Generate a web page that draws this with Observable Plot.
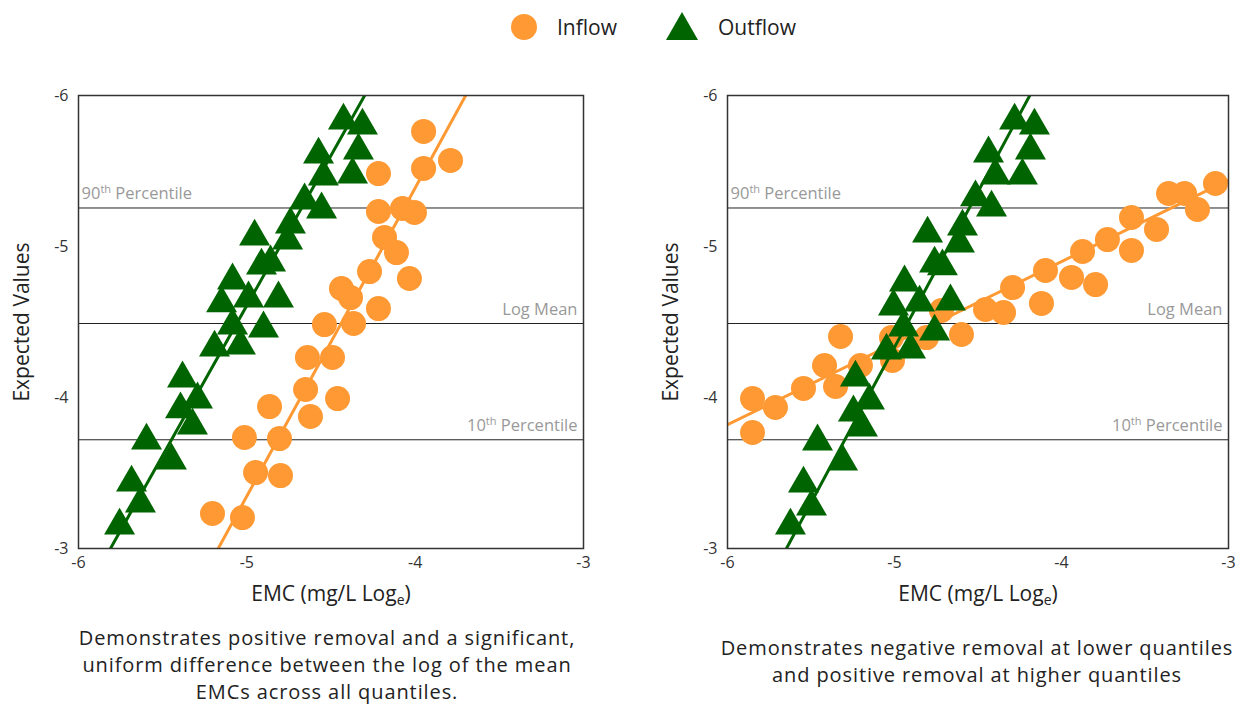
<!DOCTYPE html>
<html><head><meta charset="utf-8">
<script src="https://cdn.jsdelivr.net/npm/d3@7"></script>
<script src="https://cdn.jsdelivr.net/npm/@observablehq/plot@0.6"></script>
<style>
body{margin:0;background:#fff;font-family:"Open Sans",sans-serif;}
#wrap{position:relative;width:1244px;height:704px;overflow:hidden;background:#fff;}
.panel{position:absolute;top:70px;}
#legend{position:absolute;top:0;left:0;}
.cap{position:absolute;text-align:center;font-size:20px;letter-spacing:0.9px;line-height:27px;color:#222;white-space:nowrap;}
</style></head><body>
<div id="wrap">
 <svg id="legend" width="1244" height="56"></svg>
 <div id="left" class="panel" style="left:0"></div>
 <div id="right" class="panel" style="left:650px"></div>
 <div id="capL" class="cap" style="left:27px;width:600px;top:624px"></div>
 <div id="capR" class="cap" style="left:677px;width:600px;top:634px"></div>
</div>
<script>
// ---- data ----
const seriesNames = ["Inflow", "Outflow"];
const xTicks = [-6, -5, -4, -3];
const yTicks = [-6, -5, -4, -3];
const xLabel = "EMC (mg/L Loge)";
const yLabel = "Expected Values";
const percentileValues = [-5.255, -4.49, -3.72];
const percentileLabels = ["90th Percentile", "Log Mean", "10th Percentile"];
const captionLeft = ["Demonstrates positive removal and a significant,", "uniform difference between the log of the mean", "EMCs across all quantiles."];
const captionRight = ["Demonstrates negative removal at lower quantiles", "and positive removal at higher quantiles"];

const leftInflowX = [-5.204,-5.026,-5.014,-4.948,-4.806,-4.800,-4.865,-4.622,-4.651,-4.461,-4.640,-4.491,-4.539,-4.366,-4.438,-4.384,-4.218,-4.271,-4.034,-4.182,-4.111,-4.218,-4.075,-4.004,-4.218,-3.950,-3.790,-3.950];
const leftInflowY = [-3.232,-3.205,-3.735,-3.503,-3.728,-3.483,-3.940,-3.874,-4.053,-3.993,-4.265,-4.265,-4.483,-4.490,-4.722,-4.662,-4.589,-4.834,-4.788,-5.060,-4.960,-5.232,-5.252,-5.225,-5.483,-5.517,-5.570,-5.762];
const leftOutflowX = [-5.756,-5.632,-5.685,-5.448,-5.596,-5.323,-5.394,-5.293,-5.382,-5.192,-5.038,-4.901,-5.085,-5.150,-4.990,-4.812,-4.913,-4.859,-5.085,-4.954,-4.758,-4.741,-4.657,-4.556,-4.545,-4.372,-4.574,-4.337,-4.426,-4.313];
const leftOutflowY = [-3.152,-3.298,-3.437,-3.583,-3.715,-3.815,-3.921,-3.987,-4.126,-4.331,-4.344,-4.457,-4.477,-4.623,-4.656,-4.656,-4.874,-4.894,-4.775,-5.066,-5.040,-5.146,-5.305,-5.245,-5.464,-5.477,-5.609,-5.636,-5.834,-5.801];
// trend lines (end points)
const leftInflowTrendX = [-5.17, -3.70];
const leftInflowTrendY = [-3, -6];
const leftOutflowTrendX = [-5.81, -4.30];
const leftOutflowTrendY = [-3, -6];

const rightInflowX = [-5.850,-5.850,-5.713,-5.545,-5.419,-5.353,-5.323,-5.204,-5.018,-5.012,-4.808,-4.719,-4.599,-4.455,-4.347,-4.293,-4.120,-4.096,-3.940,-3.796,-3.874,-3.725,-3.581,-3.581,-3.431,-3.359,-3.263,-3.186,-3.078];
const rightInflowY = [-3.768,-3.993,-3.934,-4.060,-4.212,-4.073,-4.404,-4.212,-4.397,-4.245,-4.397,-4.576,-4.417,-4.583,-4.563,-4.728,-4.623,-4.841,-4.795,-4.748,-4.967,-5.046,-5.192,-4.974,-5.113,-5.351,-5.351,-5.245,-5.417];
const rightOutflowX = [-5.623,-5.497,-5.545,-5.311,-5.461,-5.192,-5.246,-5.150,-5.234,-5.048,-4.904,-4.760,-4.946,-5.006,-4.850,-4.665,-4.760,-4.713,-4.940,-4.802,-4.611,-4.593,-4.515,-4.419,-4.395,-4.234,-4.437,-4.186,-4.281,-4.162];
const rightOutflowY = [-3.152,-3.278,-3.430,-3.576,-3.709,-3.801,-3.901,-3.980,-4.132,-4.311,-4.318,-4.437,-4.464,-4.603,-4.629,-4.636,-4.887,-4.868,-4.762,-5.086,-5.020,-5.132,-5.325,-5.258,-5.470,-5.470,-5.616,-5.636,-5.834,-5.801];
const rightInflowTrendX = [-6, -3];
const rightInflowTrendY = [-3.82, -5.44];
const rightOutflowTrendX = [-5.647, -4.19];
const rightOutflowTrendY = [-3, -6];

// ---- styling ----
const ORANGE = "#ff9933", GREEN = "#006400";
const FONT = "'Open Sans', sans-serif";
const fmt = d => String(d);

function toRows(xs, ys) { return xs.map((x, i) => ({x, y: ys[i]})); }

function panel(p, width, marginLeft, marginRight) {
  const inflow = toRows(p.inX, p.inY), outflow = toRows(p.outX, p.outY);
  const pct = percentileValues.map((v, i) => ({v, label: percentileLabels[i]}));
  return Plot.plot({
    width, height: 545, marginLeft, marginRight, marginTop: 25, marginBottom: 67,
    style: {fontFamily: FONT, background: "white", color: "#333", overflow: "visible"},
    x: {domain: [-6, -3], label: null},
    y: {domain: [-3, -6], label: null},
    marks: [
      Plot.ruleY(percentileValues, {stroke: "#222", strokeWidth: 1}),
      Plot.text(pct.slice(0, 1), {y: "v", text: "label", frameAnchor: "left", textAnchor: "start", dx: 3, dy: -14, fill: "#999", fontSize: 16.5}),
      Plot.text(pct.slice(1), {y: "v", text: "label", frameAnchor: "right", textAnchor: "end", dx: -6, dy: -14, fill: "#999", fontSize: 16.5}),
      Plot.dot(inflow, {x: "x", y: "y", r: 12.5, fill: ORANGE, symbol: "circle"}),
      Plot.line(toRows(p.inTX, p.inTY), {x: "x", y: "y", stroke: ORANGE, strokeWidth: 3, clip: true}),
      Plot.dot(outflow, {x: "x", y: "y", r: 11.5, fill: GREEN, symbol: "triangle"}),
      Plot.line(toRows(p.outTX, p.outTY), {x: "x", y: "y", stroke: GREEN, strokeWidth: 3, clip: true}),
      Plot.frame({stroke: "#333", strokeWidth: 1.5}),
      Plot.axisX({ticks: xTicks, tickFormat: fmt, tickSize: 0, tickPadding: 8, fontSize: 16, label: null, fill: "#333"}),
      Plot.axisY({ticks: yTicks, tickFormat: fmt, tickSize: 0, tickPadding: 10, fontSize: 16, label: null, fill: "#333"}),
      Plot.text([xLabel], {text: d => d, frameAnchor: "bottom", textAnchor: "middle", lineAnchor: "middle", dy: 46, fontSize: 21, fill: "#222"}),
      Plot.text([yLabel], {text: d => d, frameAnchor: "left", textAnchor: "middle", lineAnchor: "middle", dx: -56, rotate: -90, fontSize: 21, fill: "#222"})
    ]
  });
}

const NS = "http://www.w3.org/2000/svg";
function tspan(parent, txt, attrs) {
  const t = document.createElementNS(NS, "tspan");
  for (const k in attrs) t.setAttribute(k, attrs[k]);
  t.textContent = txt;
  parent.appendChild(t);
}
function decorate(svg) {
  svg.querySelectorAll("text").forEach(t => {
    if (t.querySelector("tspan")) return;
    const s = t.textContent;
    let m = s.match(/^(\d+)(th)( .*)$/);
    if (m) {
      t.textContent = "";
      tspan(t, m[1], {});
      tspan(t, m[2], {"font-size": 11, dy: -6});
      tspan(t, m[3], {dy: 6});
      return;
    }
    m = s.match(/^(.*Log)(e)(\))$/);
    if (m) {
      t.textContent = "";
      tspan(t, m[1], {});
      tspan(t, m[2], {"font-size": 14, dy: 4});
      tspan(t, m[3], {dy: -4});
    }
  });
}

const L = panel({inX: leftInflowX, inY: leftInflowY, outX: leftOutflowX, outY: leftOutflowY,
  inTX: leftInflowTrendX, inTY: leftInflowTrendY, outTX: leftOutflowTrendX, outTY: leftOutflowTrendY}, 620, 78, 37);
const R = panel({inX: rightInflowX, inY: rightInflowY, outX: rightOutflowX, outY: rightOutflowY,
  inTX: rightInflowTrendX, inTY: rightInflowTrendY, outTX: rightOutflowTrendX, outTY: rightOutflowTrendY}, 594, 77, 16);
decorate(L); decorate(R);
document.getElementById("left").appendChild(L);
document.getElementById("right").appendChild(R);

// legend
const lg = d3.select("#legend").style("font-family", FONT);
lg.append("circle").attr("cx", 524).attr("cy", 27).attr("r", 13).attr("fill", ORANGE);
lg.append("text").attr("x", 557).attr("y", 34.5).attr("font-size", 21).attr("fill", "#222").text(seriesNames[0]);
lg.append("path").attr("d", "M682,12L698,40L666,40Z").attr("fill", GREEN);
lg.append("text").attr("x", 718).attr("y", 34.5).attr("font-size", 21).attr("fill", "#222").text(seriesNames[1]);

document.getElementById("capL").innerHTML = captionLeft.join("<br>");
document.getElementById("capR").innerHTML = captionRight.join("<br>");
</script>
</body></html>
